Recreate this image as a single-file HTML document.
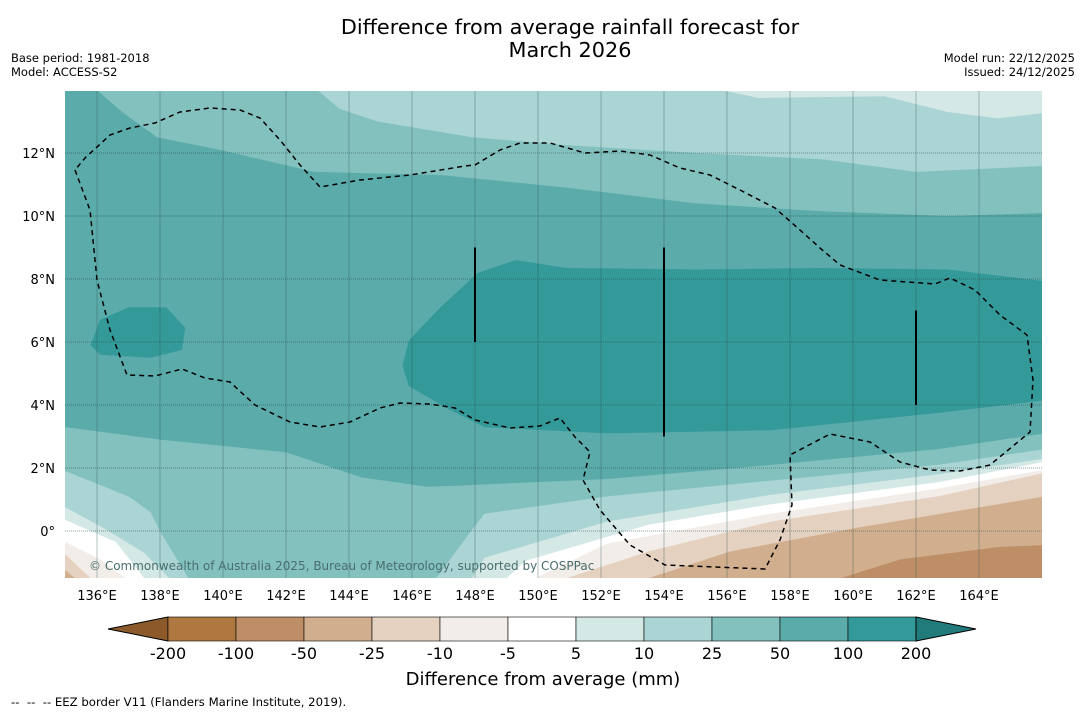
<!DOCTYPE html>
<html><head><meta charset="utf-8"><style>
body{margin:0;background:#fff;width:1085px;height:713px;overflow:hidden;font-family:"DejaVu Sans","Liberation Sans",sans-serif}
svg{display:block}
</style></head><body>
<svg id="chart" width="1085" height="713" viewBox="0 0 1085 713" xmlns="http://www.w3.org/2000/svg">
<text x="570" y="34" font-size="20.8" text-anchor="middle" fill="#000">Difference from average rainfall forecast for</text>
<text x="570" y="57" font-size="20.8" text-anchor="middle" fill="#000">March 2026</text>
<text x="11" y="62" font-size="11.5">Base period: 1981-2018</text>
<text x="11" y="76" font-size="11.5">Model: ACCESS-S2</text>
<text x="1075" y="62" font-size="11.5" text-anchor="end">Model run: 22/12/2025</text>
<text x="1075" y="76" font-size="11.5" text-anchor="end">Issued: 24/12/2025</text>
<defs><clipPath id="mapclip"><rect x="65" y="91" width="977" height="487"/></clipPath></defs>
<g id="map" clip-path="url(#mapclip)"></g>
<g id="axes"></g>
<g id="cbar"></g>
<text x="543" y="685" font-size="18" text-anchor="middle">Difference from average (mm)</text>
<text x="11" y="706" font-size="11.7" xml:space="preserve">--  --  -- EEZ border V11 (Flanders Marine Institute, 2019).</text>
</svg>
<script>
const lonTicks=[136,138,140,142,144,146,148,150,152,154,156,158,160,162,164];
const latTicks=[0,2,4,6,8,10,12];
const levels=["-200","-100","-50","-25","-10","-5","5","10","25","50","100","200"];
const levelColors=["#ae7840","#be8f66","#d1ae8d","#e5d1bf","#f2ede8","#ffffff","#d4e8e6","#aad5d4","#83c1bf","#5aabaa","#339999"];
const lowColor="#8c5a2a", highColor="#227b7b";
const c5_10Top=[[155.8,15],[155.8,14],[157,13.75],[161,13.8],[163,13.3],[164.6,13.1],[166.3,13.3],[167,13.3],[167,15]];
const c25_50=[[134,15],[143,15],[143,14],[143.7,13.4],[144.9,13],[147.9,12.5],[150.9,12.25],[155,12],[159,11.8],[162,11.4],[166.3,11.6],[167,11.6],[167,2.6],[166.1,2.6],[162.7,2.1],[157.4,1.6],[152.2,1.1],[148.3,0.55],[147.8,-0.1],[146.7,-1.6],[146.7,-2.5],[138.9,-2.5],[138.9,-1.5],[138,0],[137.7,0.6],[137,1.1],[135,1.9],[134,1.9]];
const c50_100=[[134,15],[136,15],[136,14],[136.8,13.3],[137.9,12.5],[139.9,12.1],[142.9,11.4],[146.9,11.3],[150.9,10.9],[155,10.4],[159,10.15],[163,10],[166.3,10.1],[167,10.1],[167,3.1],[166.1,3.1],[162.7,2.6],[157.4,2.1],[152.2,1.65],[146.5,1.4],[144.4,1.7],[142,2.5],[138,2.9],[135,3.3],[134,3.3]];
const c100_200=[[146.9,7.1],[148.1,8.2],[149.3,8.6],[150.9,8.35],[155,8.3],[159,8.35],[163,8.3],[166.3,7.9],[167,7.9],[167,4.15],[166.1,4.15],[162.7,3.75],[157.4,3.2],[152.2,3.1],[148.3,3.3],[147.2,3.85],[145.9,4.6],[145.7,5.25],[145.9,6.05]];
const c100_200b=[[135.8,5.9],[136.1,6.7],[137,7.1],[138.2,7.1],[138.8,6.45],[138.7,5.75],[137.7,5.5],[136.1,5.6]];
const blBands=[
 ["#d4e8e6",[[134,1.5],[135,0.75],[136.2,0.1],[137.5,-0.7],[138.3,-1.5],[138.3,-2.5],[134,-2.5]]],
 ["#ffffff",[[134,0.35],[135,0.35],[136.6,-0.35],[137.5,-1.5],[137.5,-2.5],[134,-2.5]]],
 ["#f2ede8",[[134,-0.35],[135,-0.35],[136.1,-0.9],[136.9,-1.5],[136.9,-2.5],[134,-2.5]]],
 ["#e5d1bf",[[134,-0.75],[135,-0.75],[135.8,-1.5],[135.8,-2.5],[134,-2.5]]],
 ["#d1ae8d",[[134,-1.25],[135,-1.25],[135.3,-1.5],[135.3,-2.5],[134,-2.5]]]];
const brBands=[
 ["#d4e8e6",[[147.9,-1.5],[148.3,-0.85],[152.2,0.3],[157.4,1.15],[162.7,1.8],[166.1,2.3]]],
 ["#ffffff",[[149,-1.5],[149.6,-0.95],[153.5,0.2],[157.4,0.85],[162.7,1.55],[166.1,2.2]]],
 ["#f2ede8",[[149.9,-1.5],[152.2,-0.4],[157.4,0.55],[162.7,1.35],[166.1,1.95]]],
 ["#e5d1bf",[[150.9,-1.5],[153.5,-0.65],[157.4,0.3],[162.7,1.1],[166.1,1.85]]],
 ["#d1ae8d",[[153.5,-1.5],[156.1,-0.65],[160.1,0.1],[164,0.75],[166.1,1.1]]],
 ["#be8f66",[[159.6,-1.5],[161.5,-0.9],[164.7,-0.5],[166.1,-0.45]]]];
const eez=[[75,170],[90,210],[97,280],[110,330],[127,375],[155,376],[182,369],[205,378],[230,382],[255,405],[290,422],[320,427],[350,422],[380,408],[400,403],[430,404],[455,408],[475,420],[510,428],[540,426],[560,418],[575,437],[590,452],[583,480],[600,510],[630,545],[665,565],[765,569],[780,540],[792,505],[790,455],[830,434],[870,442],[900,462],[930,470],[960,471],[990,465],[1030,432],[1033,380],[1027,335],[1000,315],[975,290],[950,278],[935,284],[880,280],[840,265],[820,248],[800,230],[775,208],[740,190],[710,175],[680,168],[650,155],[620,151],[585,153],[550,143],[520,143],[500,150],[475,165],[465,166],[410,175],[360,180],[320,187],[300,165],[280,140],[260,118],[240,110],[210,108],[180,112],[155,123],[130,128],[110,135],[85,158],[75,170]];
const xS=lon=>65.5+(lon-135)*31.5;
const yS=lat=>531-lat*31.5;
const NS="http://www.w3.org/2000/svg";
function mk(tag,attrs,parent){const e=document.createElementNS(NS,tag);for(const k in attrs)e.setAttribute(k,attrs[k]);parent.appendChild(e);return e;}
const pts=a=>a.map(p=>xS(p[0]).toFixed(1)+","+yS(p[1]).toFixed(1)).join(" ");
const map=document.getElementById("map");
let r=mk("rect",{x:65,y:91,width:977,height:487,fill:levelColors[7]},map);


function poly(a,fill,name){const p=mk("polygon",{points:pts(a),fill:fill},map);

}
poly(c5_10Top,levelColors[6],'contour-5-10-top');
poly(c25_50,levelColors[8],'contour-25-50');
poly(c50_100,levelColors[9],'contour-50-100');
poly(c100_200,levelColors[10],'contour-100-200');
poly(c100_200b,levelColors[10],'contour-100-200-west');
blBands.forEach(b=>poly(b[1],b[0],'contour-band-southwest'));
brBands.forEach(b=>{const a=b[1].slice();a.unshift([a[0][0],-2.5]);a.push([167,a[a.length-1][1]],[167,-2.5]);poly(a,b[0],'contour-band-southeast');});
lonTicks.forEach(l=>{const g=mk("line",{x1:xS(l),x2:xS(l),y1:91,y2:578,stroke:"#2b4f4f","stroke-opacity":0.35,"stroke-width":1},map);

});
latTicks.forEach(l=>{const g=mk("line",{x1:65,x2:1042,y1:yS(l),y2:yS(l),stroke:"#2b4f4f","stroke-opacity":0.55,"stroke-width":1,"stroke-dasharray":"1,1"},map);

});
const ez=mk("polyline",{points:eez.map(p=>p.join(",")).join(" "),fill:"none",stroke:"#000","stroke-width":1.5,"stroke-dasharray":"5,4"},map);


[[148,9,6],[154,9,3],[162,7,4]].forEach(v=>{const l=mk("line",{x1:xS(v[0]),x2:xS(v[0]),y1:yS(v[1]),y2:yS(v[2]),stroke:"#000","stroke-width":2},map);

});
const cp=mk("text",{x:89,y:570,"font-size":12,fill:"#4a6e6e"},map);cp.textContent="© Commonwealth of Australia 2025, Bureau of Meteorology, supported by COSPPac";


const ax=document.getElementById("axes");
lonTicks.forEach(l=>{const t=mk("text",{x:xS(l),y:600,"font-size":13,"text-anchor":"middle"},ax);t.textContent=l+"°E";

});
latTicks.forEach(l=>{const t=mk("text",{x:55,y:yS(l)+5,"font-size":13,"text-anchor":"end"},ax);t.textContent=l===0?"0°":l+"°N";

});
const cb=document.getElementById("cbar");
const x0=168,w=68,y0=617,h=24;
let tri=mk("polygon",{points:`${x0},${y0} ${x0},${y0+h} 108,${y0+h/2}`,fill:lowColor,stroke:"#000","stroke-width":1},cb);


levelColors.forEach((c,i)=>{const b=mk("rect",{x:x0+i*w,y:y0,width:w,height:h,fill:c,stroke:"#000","stroke-width":0.6},cb);

});
const xe=x0+levelColors.length*w;
tri=mk("polygon",{points:`${xe},${y0} ${xe},${y0+h} ${xe+60},${y0+h/2}`,fill:highColor,stroke:"#000","stroke-width":1},cb);


levels.forEach((lv,i)=>{const t=mk("text",{x:x0+i*w,y:659,"font-size":16,"text-anchor":"middle"},cb);t.textContent=lv;

});
</script>
</body></html>
